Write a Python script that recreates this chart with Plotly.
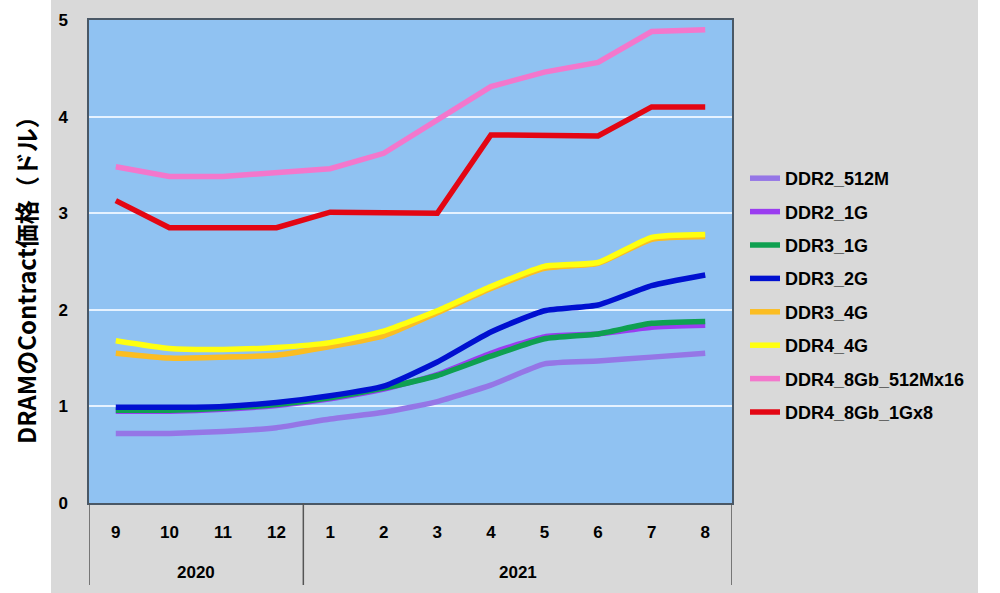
import plotly.graph_objects as go

months = ["9", "10", "11", "12", "1", "2", "3", "4", "5", "6", "7", "8"]
years = ["2020", "2021"]

ddr2_512m = [0.72, 0.72, 0.74, 0.78, 0.87, 0.94, 1.05, 1.22, 1.44, 1.47, 1.51, 1.55]
ddr2_1g = [0.95, 0.95, 0.97, 1.01, 1.08, 1.18, 1.33, 1.55, 1.72, 1.75, 1.82, 1.84]
ddr3_1g = [0.96, 0.96, 0.98, 1.02, 1.09, 1.19, 1.32, 1.52, 1.70, 1.75, 1.86, 1.88]
ddr3_2g = [0.99, 0.99, 1.00, 1.04, 1.11, 1.21, 1.46, 1.77, 1.99, 2.05, 2.25, 2.36]
ddr3_4g = [1.55, 1.50, 1.51, 1.53, 1.62, 1.73, 1.97, 2.22, 2.43, 2.48, 2.73, 2.76]
ddr4_4g = [1.68, 1.60, 1.59, 1.61, 1.66, 1.78, 1.99, 2.24, 2.45, 2.49, 2.75, 2.78]
ddr4_8gb_512 = [3.48, 3.38, 3.38, 3.42, 3.46, 3.62, 3.97, 4.31, 4.46, 4.56, 4.88, 4.90]
ddr4_8gb_1g = [3.13, 2.85, 2.85, 2.85, 3.01, 3.00, 3.00, 3.81, 3.80, 3.80, 4.10, 4.10]

series = [
    ("DDR2_512M", ddr2_512m, "#9576e6", "spline"),
    ("DDR2_1G", ddr2_1g, "#9a3cf0", "spline"),
    ("DDR3_1G", ddr3_1g, "#0fa050", "spline"),
    ("DDR3_2G", ddr3_2g, "#0010d0", "spline"),
    ("DDR3_4G", ddr3_4g, "#fbbd22", "spline"),
    ("DDR4_4G", ddr4_4g, "#ffff10", "spline"),
    ("DDR4_8Gb_512Mx16", ddr4_8gb_512, "#f377cc", "linear"),
    ("DDR4_8Gb_1Gx8", ddr4_8gb_1g, "#e30613", "linear"),
]

font_main = "Arial, Liberation Sans, Noto Sans CJK JP"
font_jp = "Noto Sans CJK JP"

fig = go.Figure()
xs = list(range(len(months)))
for name, vals, col, shp in series:
    fig.add_trace(go.Scatter(x=xs, y=vals, mode="lines", name=name,
                             legendgroup=name,
                             line=dict(color=col, width=5.5, shape=shp, smoothing=0.5)))

# plot geometry (px)
L, R, T, B = 89, 732, 20, 503
W, H = 1000, 593
pw, ph = R - L, B - T


def px_x(p):
    return (p - L) / pw


def px_y(p):
    return (B - p) / ph


shapes = [
    # white strips either side of the grey panel
    dict(type="rect", xref="paper", yref="paper", x0=px_x(0), x1=px_x(51),
         y0=px_y(H), y1=px_y(0), fillcolor="white", line_width=0, layer="below"),
    dict(type="rect", xref="paper", yref="paper", x0=px_x(978), x1=px_x(W),
         y0=px_y(H), y1=px_y(0), fillcolor="white", line_width=0, layer="below"),
]
# category dividers below the axis
for xv in [-0.5, 3.5, 11.5]:
    shapes.append(dict(type="line", xref="x", yref="paper", x0=xv, x1=xv,
                       y0=0, y1=px_y(585), line=dict(color="#555555", width=1.5)))

bold = dict(color="black", weight="bold")
annotations = [
    dict(text="DRAMのContract価格（ドル）", xref="paper", yref="paper",
         x=px_x(25), y=px_y(274), xanchor="center", yanchor="middle",
         textangle=-90, showarrow=False, font=dict(size=24, family=font_jp, **bold)),
    dict(text=years[0], xref="x", yref="paper", x=1.5, y=px_y(572),
         xanchor="center", yanchor="middle", showarrow=False,
         font=dict(size=17, family=font_main, **bold)),
    dict(text=years[1], xref="x", yref="paper", x=7.5, y=px_y(572),
         xanchor="center", yanchor="middle", showarrow=False,
         font=dict(size=17, family=font_main, **bold)),
]

fig.update_layout(
    width=W, height=H,
    margin=dict(l=L, r=W - R, t=T, b=H - B),
    paper_bgcolor="#d9d9d9",
    plot_bgcolor="#90c2f2",
    shapes=shapes,
    annotations=annotations,
    showlegend=True,
    legend=dict(x=px_x(745), y=px_y(160), xanchor="left", yanchor="top",
                bgcolor="rgba(0,0,0,0)", tracegroupgap=7, itemwidth=30,
                font=dict(size=18, family=font_main, **bold)),
    xaxis=dict(range=[-0.5, 11.5], tickvals=xs, ticktext=months,
               showgrid=False, zeroline=False, ticks="",
               showline=True, linecolor="#4a5866", linewidth=1.5, mirror=True,
               ticklabelstandoff=13,
               tickfont=dict(size=17, family=font_main, **bold)),
    yaxis=dict(range=[0, 5], dtick=1, showgrid=True, gridcolor="#e6f2ff",
               gridwidth=1.5, zeroline=False, ticks="",
               showline=True, linecolor="#4a5866", linewidth=1.5, mirror=True,
               ticklabelstandoff=16,
               tickfont=dict(size=17, family=font_main, **bold)),
)

# the page gets the default 8px body margin; drop it so the figure sits at 0,0
fig.write_html("out.html", config={"displayModeBar": False},
               post_script="document.body.style.margin='0';")
